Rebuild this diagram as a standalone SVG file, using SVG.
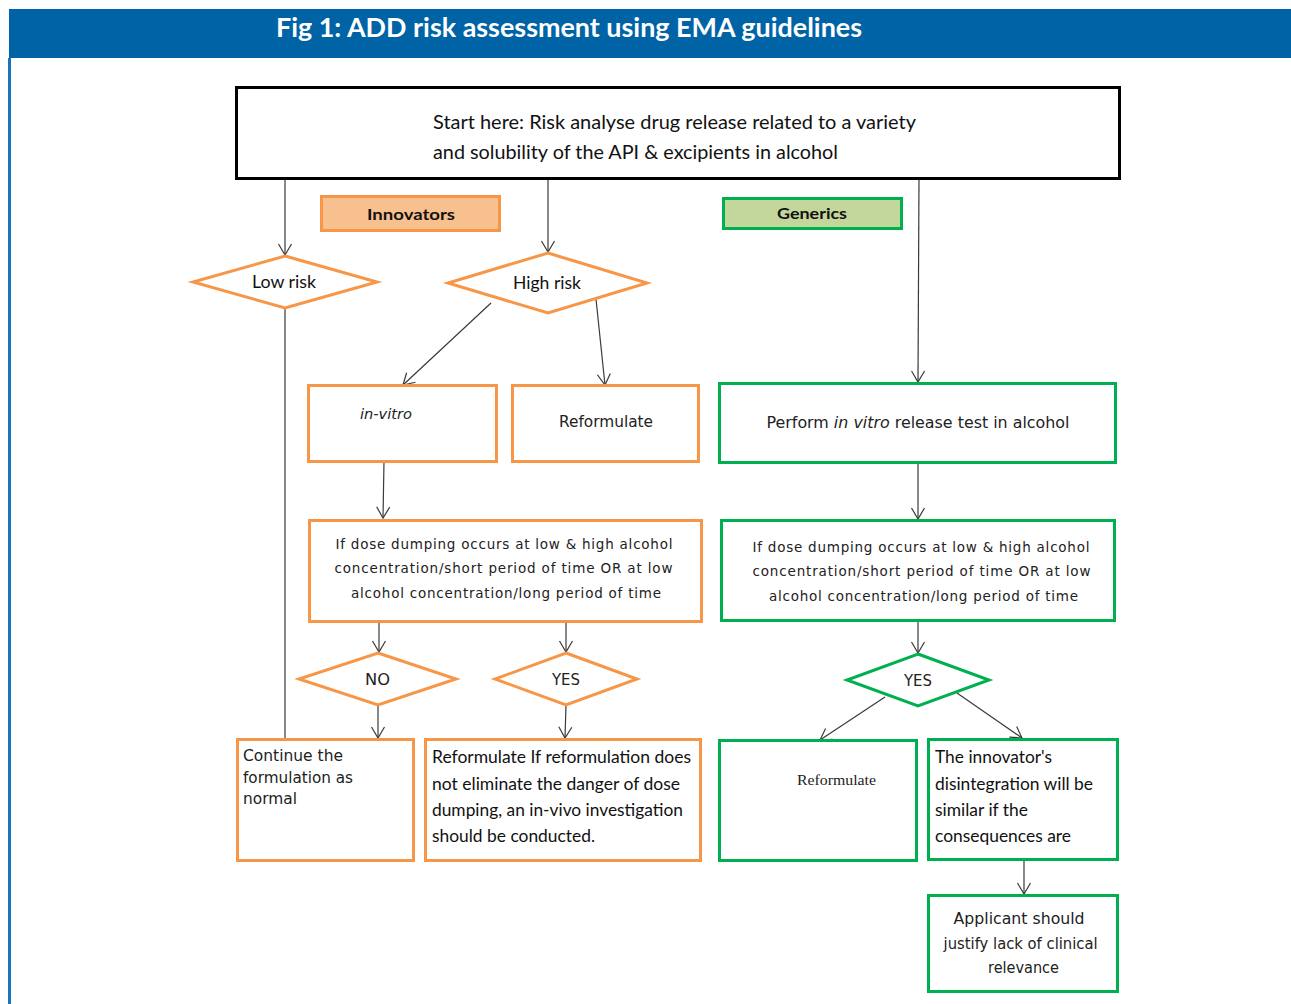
<svg xmlns="http://www.w3.org/2000/svg" width="1291" height="1004" viewBox="0 0 1291 1004">
<defs>
<marker id="arr" markerUnits="userSpaceOnUse" markerWidth="16" markerHeight="16" viewBox="-12 -8 14 16" refX="0" refY="0" orient="auto">
<path d="M-11,-6.5 L0,0 L-11,6.5" fill="none" stroke="#3a3a3a" stroke-width="1.2"/>
</marker>
</defs>
<style>
.or{fill:#fff;stroke:#F79646;stroke-width:3}
.gr{fill:#fff;stroke:#00B050;stroke-width:3}
.cal{font-family:Lato,"Liberation Sans",sans-serif;fill:#111}
.dv{font-family:"DejaVu Sans","Liberation Sans",sans-serif;fill:#222}
.con line,.con path{stroke:#3a3a3a;stroke-width:1.2;fill:none}
.ah{marker-end:url(#arr)}
</style>
<rect width="1291" height="1004" fill="#fff"/>
<g id="header">
<rect x="9" y="9" width="1282" height="49" fill="#0063A6"/>
<rect x="8" y="58" width="3" height="946" fill="#1B74BA"/>
<text x="276" y="37" font-family="Lato,'Liberation Sans',sans-serif" font-weight="bold" font-size="26" fill="#fff" textLength="586" lengthAdjust="spacingAndGlyphs">Fig 1: ADD risk assessment using EMA guidelines</text>
</g>
<g class="con">
<line class="ah" x1="285" y1="179" x2="285" y2="255"/>
<line class="ah" x1="548" y1="179" x2="548" y2="252"/>
<line class="ah" x1="919" y1="179" x2="918" y2="382"/>
<line x1="285" y1="308" x2="285" y2="739"/>
<line class="ah" x1="491" y1="303" x2="403" y2="385"/>
<line class="ah" x1="596" y1="299" x2="605" y2="385"/>
<line class="ah" x1="384" y1="461" x2="383" y2="518"/>
<line class="ah" x1="918" y1="462" x2="918" y2="519"/>
<line class="ah" x1="379" y1="621" x2="379" y2="652"/>
<line class="ah" x1="566" y1="621" x2="566" y2="652"/>
<line class="ah" x1="378" y1="705" x2="378" y2="738"/>
<line class="ah" x1="566" y1="705" x2="565" y2="738"/>
<line class="ah" x1="918" y1="620" x2="918" y2="653"/>
<line class="ah" x1="885" y1="697" x2="820" y2="740"/>
<line class="ah" x1="957" y1="693" x2="1022" y2="738"/>
<line class="ah" x1="1024" y1="860" x2="1024" y2="894"/>
</g>
<g id="start">
<rect x="236.5" y="87.5" width="883" height="91" fill="#fff" stroke="#000" stroke-width="3"/>
<text class="cal" x="433" y="129" font-size="19" textLength="483" lengthAdjust="spacingAndGlyphs">Start here: Risk analyse drug release related to a variety</text>
<text class="cal" x="433" y="159" font-size="19" textLength="405" lengthAdjust="spacingAndGlyphs">and solubility of the API &amp; excipients in alcohol</text>
</g>
<g id="innovators">
<rect x="321.5" y="196.5" width="178" height="34" fill="#F8BF8F" stroke="#F79646" stroke-width="3"/>
<text class="cal" x="411" y="220" font-size="16" font-weight="bold" text-anchor="middle" textLength="88" lengthAdjust="spacingAndGlyphs">Innovators</text>
</g>
<g id="generics">
<rect x="723.5" y="198.5" width="178" height="30" fill="#C3D69B" stroke="#00B050" stroke-width="3"/>
<text class="cal" x="812" y="219" font-size="16" font-weight="bold" text-anchor="middle" textLength="70" lengthAdjust="spacingAndGlyphs">Generics</text>
</g>
<g id="lowrisk">
<polygon class="or" points="285,256 377,282 285,308 193,282"/>
<text class="cal" x="284" y="288" font-size="17" text-anchor="middle" textLength="64" lengthAdjust="spacingAndGlyphs">Low risk</text>
</g>
<g id="highrisk">
<polygon class="or" points="548,253 647,283 548,313 448,283"/>
<text class="cal" x="547" y="289" font-size="17" text-anchor="middle" textLength="68" lengthAdjust="spacingAndGlyphs">High risk</text>
</g>
<g id="invitro">
<rect class="or" x="308.5" y="385.5" width="188" height="76"/>
<text class="dv" x="360" y="419" font-size="14" font-style="italic" textLength="52" lengthAdjust="spacingAndGlyphs">in-vitro</text>
</g>
<g id="reformulate1">
<rect class="or" x="512.5" y="385.5" width="186" height="76"/>
<text class="dv" x="606" y="427" font-size="15" text-anchor="middle" textLength="94" lengthAdjust="spacingAndGlyphs">Reformulate</text>
</g>
<g id="perform">
<rect class="gr" x="719.5" y="383.5" width="396" height="79"/>
<text class="dv" x="918" y="428" font-size="16" text-anchor="middle" textLength="303" lengthAdjust="spacingAndGlyphs">Perform <tspan font-style="italic">in vitro</tspan> release test in alcohol</text>
</g>
<g id="dose1">
<rect class="or" x="309.5" y="520.5" width="392" height="101"/>
<text class="dv" font-size="13.5" text-anchor="middle">
<tspan x="506.5" y="549" textLength="337" lengthAdjust="spacing">If dose dumping occurs at low &amp; high alcohol</tspan>
<tspan x="506" y="573" textLength="338" lengthAdjust="spacing">concentration/short period of time OR at low</tspan>
<tspan x="506" y="598" textLength="310" lengthAdjust="spacing">alcohol concentration/long period of time</tspan>
</text>
</g>
<g id="dose2">
<rect class="gr" x="721.5" y="520.5" width="393" height="100"/>
<text class="dv" font-size="13.5" text-anchor="middle">
<tspan x="923.5" y="552" textLength="337" lengthAdjust="spacing">If dose dumping occurs at low &amp; high alcohol</tspan>
<tspan x="924" y="576" textLength="338" lengthAdjust="spacing">concentration/short period of time OR at low</tspan>
<tspan x="923.5" y="601" textLength="309" lengthAdjust="spacing">alcohol concentration/long period of time</tspan>
</text>
</g>
<g id="no">
<polygon class="or" points="378,653 456,679 378,705 299,679"/>
<text class="dv" x="377.5" y="685" font-size="15" text-anchor="middle" textLength="25" lengthAdjust="spacingAndGlyphs">NO</text>
</g>
<g id="yes1">
<polygon class="or" points="566,653 637,679 566,705 495,679"/>
<text class="dv" x="566" y="685" font-size="15" text-anchor="middle" textLength="28" lengthAdjust="spacingAndGlyphs">YES</text>
</g>
<g id="yes2">
<polygon class="gr" points="918,654 989,680 918,706 847,680"/>
<text class="dv" x="918" y="686" font-size="15" text-anchor="middle" textLength="28" lengthAdjust="spacingAndGlyphs">YES</text>
</g>
<g id="continue">
<rect class="or" x="237.5" y="739.5" width="176" height="121"/>
<text class="dv" font-size="15">
<tspan x="243" y="761" textLength="100" lengthAdjust="spacingAndGlyphs">Continue the</tspan>
<tspan x="243" y="783" textLength="110" lengthAdjust="spacingAndGlyphs">formulation as</tspan>
<tspan x="243" y="804" textLength="54" lengthAdjust="spacingAndGlyphs">normal</tspan>
</text>
</g>
<g id="reformulate2">
<rect class="or" x="425.5" y="739.5" width="275" height="121"/>
<text class="cal" font-size="17">
<tspan x="432" y="763" textLength="259" lengthAdjust="spacingAndGlyphs">Reformulate If reformulation does</tspan>
<tspan x="432" y="790" textLength="248" lengthAdjust="spacingAndGlyphs">not eliminate the danger of dose</tspan>
<tspan x="432" y="816" textLength="251" lengthAdjust="spacingAndGlyphs">dumping, an in-vivo investigation</tspan>
<tspan x="432" y="842" textLength="163" lengthAdjust="spacingAndGlyphs">should be conducted.</tspan>
</text>
</g>
<g id="reformulate3">
<rect class="gr" x="719.5" y="740.5" width="197" height="120"/>
<text x="836.5" y="785" font-family="'Liberation Serif',serif" font-size="15" fill="#222" text-anchor="middle" textLength="79" lengthAdjust="spacingAndGlyphs">Reformulate</text>
</g>
<g id="innovator">
<rect class="gr" x="928.5" y="739.5" width="189" height="120"/>
<text class="cal" font-size="17">
<tspan x="935" y="763" textLength="117" lengthAdjust="spacingAndGlyphs">The innovator's</tspan>
<tspan x="935" y="790" textLength="158" lengthAdjust="spacingAndGlyphs">disintegration will be</tspan>
<tspan x="935" y="816" textLength="93" lengthAdjust="spacingAndGlyphs">similar if the</tspan>
<tspan x="935" y="842" textLength="136" lengthAdjust="spacingAndGlyphs">consequences are</tspan>
</text>
</g>
<g id="applicant">
<rect class="gr" x="928.5" y="895.5" width="189" height="96"/>
<text class="dv" font-size="15" text-anchor="middle">
<tspan x="1021.5" y="924" textLength="131" lengthAdjust="spacingAndGlyphs">Applicant should</tspan>
<tspan x="1023" y="949" textLength="154" lengthAdjust="spacingAndGlyphs">justify lack of clinical</tspan>
<tspan x="1023.5" y="973" textLength="71" lengthAdjust="spacingAndGlyphs">relevance</tspan>
</text>
</g>
</svg>
